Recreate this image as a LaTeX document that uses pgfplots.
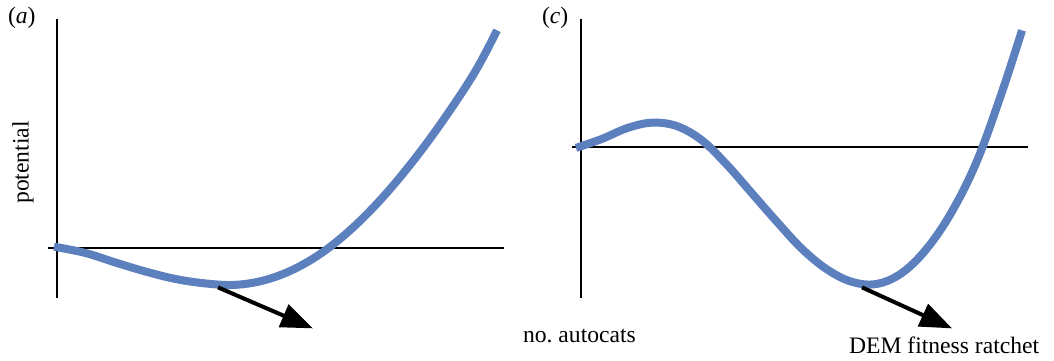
\documentclass[border=0pt]{standalone}
\usepackage{fontspec}
\setmainfont{Liberation Serif}
\usepackage{pgfplots}
\pgfplotsset{compat=1.18}
\usetikzlibrary{arrows.meta}

\definecolor{curveblue}{RGB}{92,127,189}

\pgfplotsset{
  panel/.style={
    x=0.5pt, y=0.5pt,
    ymin=0, ymax=359,
    y dir=reverse,
    hide axis,
    clip=false,
    anchor=origin,
  },
  potline/.style={curveblue, line width=4pt, smooth, tension=0.6},
  baseline/.style={black, line width=1.1pt},
  ratchet/.style={black, line width=2pt, -{Triangle[length=16pt,width=12pt]}},
}

\begin{document}
\begin{tikzpicture}[font=\fontsize{11.8}{13}\selectfont]
\path (0,0) rectangle (527pt,179.5pt);

% panel (a)
\begin{axis}[panel, xmin=0, xmax=520, at={(0pt,179.5pt)}]
\addplot[baseline] coordinates {(57,19) (57,298)};
\addplot[baseline] coordinates {(48,247.5) (504,247.5)};
\addplot[potline] coordinates {
  (54,246.3) (85,252.5) (115,262) (145,271) (175,278.5) (205,283)
  (235,284.5) (265,279.7) (295,268.3) (325,250.2) (355,225.3)
  (385,194.4) (415,158.2) (445,117.2) (475,71.5) (497,30)
};
\addplot[ratchet] coordinates {(218,287) (313,328)};
\node[anchor=west] at (axis cs:1,17) {(\textit{a})};
\node[rotate=90] at (axis cs:23,162) {potential};
\end{axis}

% panel (c)
\begin{axis}[panel, xmin=520, xmax=1054, at={(260pt,179.5pt)}]
\addplot[baseline] coordinates {(581,19) (581,298)};
\addplot[baseline] coordinates {(572,147) (1028,147)};
\addplot[potline] coordinates {
  (576,147.5) (602,138.5) (627,127.8) (652,122.3) (677,125.8)
  (702,140) (727,164.5) (752,193) (777,221.5) (802,248.5)
  (827,269) (852,281.5) (877,283.5) (902,272.5) (927,248)
  (952,211) (977,160.5) (1002,91.6) (1022,30)
};
\addplot[ratchet] coordinates {(862,287) (952,328)};
\node[anchor=west] at (axis cs:535,17) {(\textit{c})};
\node[anchor=base west] at (axis cs:516,342) {no.\ autocats};
\node[anchor=base west] at (axis cs:842,353) {DEM fitness ratchet};
\end{axis}
\end{tikzpicture}
\end{document}
